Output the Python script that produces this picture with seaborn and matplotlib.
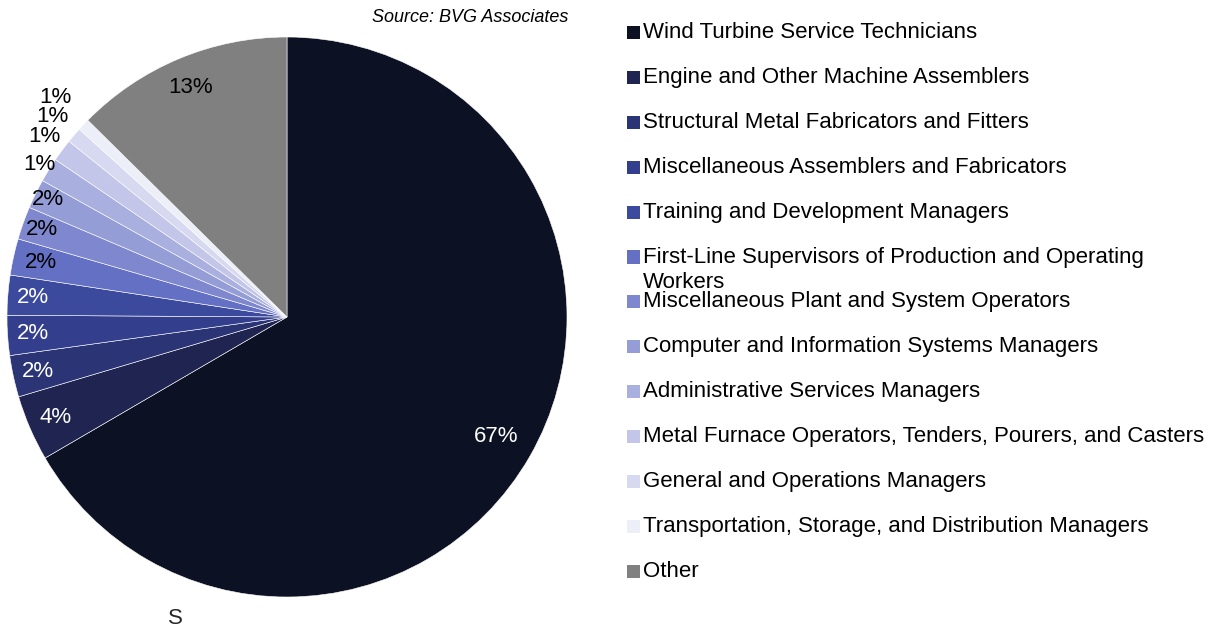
import numpy as np
import matplotlib as mpl
mpl.use("Agg")
from matplotlib import pyplot as plt
from matplotlib.patches import Rectangle
import seaborn as sns

sns.set_theme(style="white")
plt.rcParams['font.family'] = ['Liberation Sans', 'DejaVu Sans']

occupations = [
    "Wind Turbine Service Technicians",
    "Engine and Other Machine Assemblers",
    "Structural Metal Fabricators and Fitters",
    "Miscellaneous Assemblers and Fabricators",
    "Training and Development Managers",
    "First-Line Supervisors of Production and Operating\nWorkers",
    "Miscellaneous Plant and System Operators",
    "Computer and Information Systems Managers",
    "Administrative Services Managers",
    "Metal Furnace Operators, Tenders, Pourers, and Casters",
    "General and Operations Managers",
    "Transportation, Storage, and Distribution Managers",
    "Other",
]
shares = [66.6, 3.8, 2.4, 2.3, 2.3, 2.1, 1.9, 1.7, 1.4, 1.3, 0.9, 0.7, 12.6]

colors = sns.color_palette([
    "#0d1124", "#1f2550", "#2b3575", "#333f8c", "#3c4a9e", "#6470c4",
    "#7f88cf", "#949dd6", "#a9afde", "#c3c6e8", "#d6d9ef", "#eceef8", "#808080",
])
label_colors = ["white"] * 5 + ["black"] * 8
label_dist = [0.86, 0.9, 0.91, 0.91, 0.91, 0.9, 0.93, 0.95, 1.04, 1.08, 1.1, 1.14, 0.89]

W, H = 1221, 628
fig = plt.figure(figsize=(W / 100, H / 100), dpi=100)
R = 280
cx, cy = 287, 317
ax = fig.add_axes([(cx - R) / W, (H - cy - R) / H, 2 * R / W, 2 * R / H])

wedges, _ = ax.pie(shares, colors=colors, startangle=90, counterclock=False,
                   wedgeprops=dict(edgecolor="white", linewidth=0.4))
ax.set_xlim(-1, 1)
ax.set_ylim(-1, 1)
ax.set_aspect("equal")
ax.axis("off")

for w, v, c, d in zip(wedges, shares, label_colors, label_dist):
    ang = np.deg2rad((w.theta1 + w.theta2) / 2)
    ax.text(d * np.cos(ang), d * np.sin(ang), f"{v:.0f}%", color=c,
            ha="center", va="center", fontsize=16)

# legend drawn by hand so the wrapped entry keeps the even row step
x_box, box = 627, 13
y0, step = 32.5, 44.9
for i, (name, col) in enumerate(zip(occupations, colors)):
    yc = y0 + i * step
    fig.add_artist(Rectangle((x_box / W, (H - yc - box / 2) / H), box / W, box / H,
                             facecolor=col, edgecolor="none", transform=fig.transFigure))
    for j, line in enumerate(name.split("\n")):
        fig.text(643 / W, (H - yc - j * 26) / H, line, fontsize=16,
                 ha="left", va="center", color="black")

fig.text(568 / W, (H - 18) / H, "Source: BVG Associates", fontsize=13,
         style="italic", ha="right", va="center", color="black")
fig.text(175 / W, (H - 618) / H, "S", fontsize=16, ha="center", va="center")

fig.savefig("out.png", dpi=100)
